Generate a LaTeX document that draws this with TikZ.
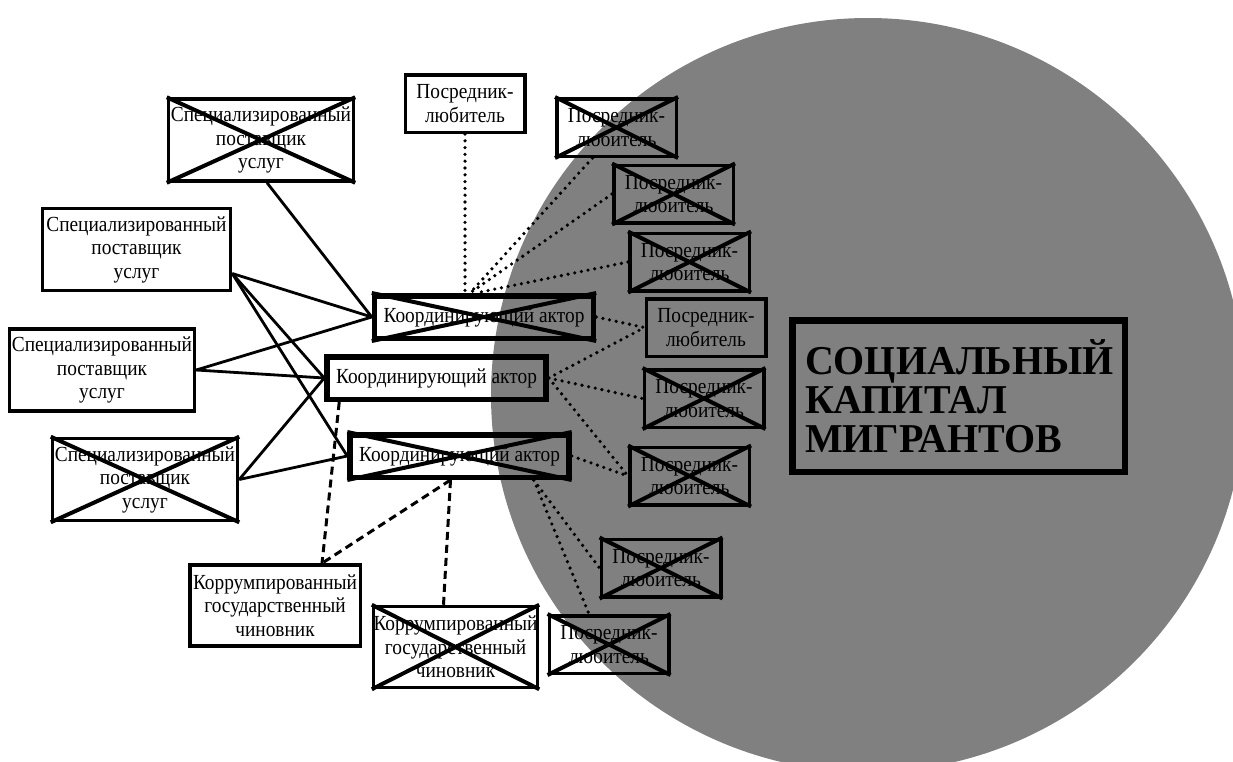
\documentclass[tikz,border=0pt]{standalone}
\usepackage{fontspec}
\setmainfont{Liberation Serif}
\newfontfamily\ttlfont[FakeStretch=0.975]{Liberation Serif}
\newfontfamily\boxfont[FakeStretch=0.9]{Liberation Serif}
\begin{document}
\begin{tikzpicture}[x=1pt, y=-1pt, line width=2.8pt]
    \tikzstyle{bx}=[draw, line width=3.5pt, inner sep=0pt, align=center, font=\boxfont\fontsize{21.5}{23.5}\selectfont]
    \tikzstyle{sp}=[bx, minimum width=185pt, minimum height=82pt]
    \tikzstyle{pl}=[bx, minimum width=119.5pt, minimum height=57.5pt]
    \tikzstyle{ka}=[bx, line width=5.5pt, minimum width=219pt, minimum height=42.5pt]
    \tikzstyle{ch}=[bx, minimum height=81pt]
    \tikzstyle{xx}=[line width=4pt]
    \tikzstyle{ds}=[line width=3pt, dash pattern=on 8pt off 5pt]
    \tikzstyle{dt}=[line width=3.6pt, line cap=round, dash pattern=on 0pt off 6.8pt]
    \useasboundingbox (0,0) rectangle (1233,761);
    \fill[black!50] (868,395) circle (377pt);
    % suppliers
    \node[sp] (s1) at (261,140) {Специализированный\\поставщик\\услуг};
    \node[sp, minimum width=188pt] (s2) at (136.5,249.5) {Специализированный\\поставщик\\услуг};
    \node[sp] (s3) at (102,370) {Специализированный\\поставщик\\услуг};
    \node[sp] (s4) at (145,479.5) {Специализированный\\поставщик\\услуг};
    % coordinating actors
    \node[ka] (k1) at (484,317) {Координирующий актор};
    \node[ka] (k2) at (436.5,378) {Координирующий актор};
    \node[ka] (k3) at (459.5,456) {Координирующий актор};
    % officials
    \node[ch, minimum width=170.5pt] (c1) at (275,605.5) {Коррумпированный\\государственный\\чиновник};
    \node[ch, minimum width=163.5pt] (c2) at (455.5,647) {Коррумпированный\\государственный\\чиновник};
    % amateurs
    \node[pl] (p0) at (465,103.5) {Посредник-\\любитель};
    \node[pl] (p1) at (616.5,127.5) {Посредник-\\любитель};
    \node[pl] (p2) at (673.5,194) {Посредник-\\любитель};
    \node[pl] (p3) at (689.5,262) {Посредник-\\любитель};
    \node[pl] (p4) at (706,327.5) {Посредник-\\любитель};
    \node[pl] (p5) at (704,398.5) {Посредник-\\любитель};
    \node[pl] (p6) at (689.5,476) {Посредник-\\любитель};
    \node[pl] (p7) at (661,568) {Посредник-\\любитель};
    \node[pl] (p8) at (609,644.5) {Посредник-\\любитель};
    \node[draw, line width=6.5pt, minimum width=332.5pt, minimum height=151.5pt, inner sep=0pt,
          text width=307pt, align=left, font=\fontsize{41}{39}\selectfont\ttlfont\bfseries] (t) at (958.5,396)
          {СОЦИАЛЬНЫЙ\\КАПИТАЛ\\МИГРАНТОВ};
    % crosses
    \foreach \n in {s1,s4,k1,k3,c2,p1,p2,p3,p5,p6,p7,p8}
        \draw[xx] (\n.north west) -- (\n.south east) (\n.south west) -- (\n.north east);
    % solid links
    \draw ([xshift=6pt]s1.south) -- (k1.west);
    \draw ([yshift=-24pt]s2.east) -- (k1.west);
    \draw ([yshift=-24pt]s2.east) -- (k2.west);
    \draw ([yshift=-24pt]s2.east) -- (k3.west);
    \draw (s3.east) -- (k1.west);
    \draw (s3.east) -- (k2.west);
    \draw (s4.east) -- (k2.west);
    \draw (s4.east) -- (k3.west);
    % dashed links
    \draw[ds] ([xshift=15pt]k2.south west) -- ([xshift=47pt]c1.north);
    \draw[ds] ([xshift=-9pt]k3.south) -- ([xshift=47pt]c1.north);
    \draw[ds] ([xshift=-9pt]k3.south) -- ([xshift=-12pt]c2.north);
    % dotted links
    \draw[dt] (p0.south) -- ([xshift=-19pt]k1.north);
    \draw[dt] ([xshift=-24pt]p1.south) -- ([xshift=-14pt]k1.north);
    \draw[dt] (p2.west) -- ([xshift=-14pt]k1.north);
    \draw[dt] (p3.west) -- ([xshift=-8pt]k1.north);
    \draw[dt] (k1.east) -- (p4.west);
    \draw[dt] (k2.east) -- (p4.west);
    \draw[dt] (k2.east) -- (p5.west);
    \draw[dt] (k2.east) -- (p6.west);
    \draw[dt] (k3.east) -- (p6.west);
    \draw[dt] ([xshift=-38pt]k3.south east) -- (p7.west);
    \draw[dt] ([xshift=-38pt]k3.south east) -- ([xshift=-20pt]p8.north);
\end{tikzpicture}
\end{document}
